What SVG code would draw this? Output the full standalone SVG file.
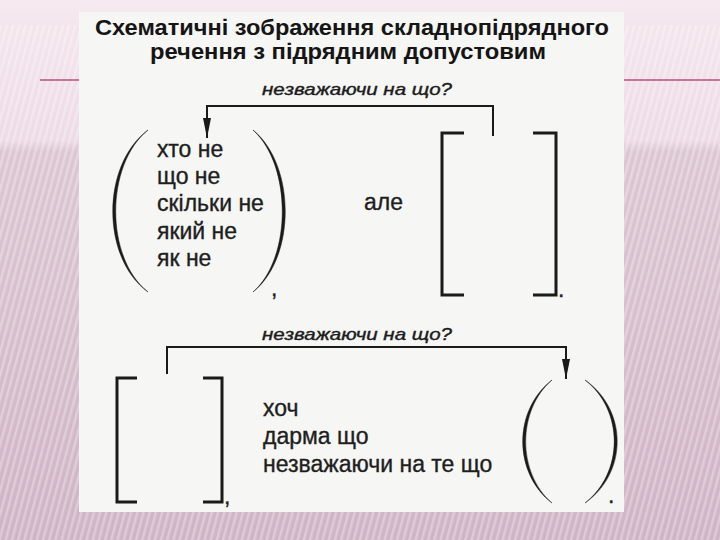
<svg xmlns="http://www.w3.org/2000/svg" width="720" height="540" viewBox="0 0 720 540">
  <defs>
    <linearGradient id="bg" x1="0" y1="0" x2="0" y2="1">
      <stop offset="0" stop-color="#f6eaf0"/>
      <stop offset="0.05" stop-color="#f4e5ed"/>
      <stop offset="0.26" stop-color="#eddbe5"/>
      <stop offset="0.28" stop-color="#dcc6d3"/>
      <stop offset="1" stop-color="#cfb4c5"/>
    </linearGradient>
    <pattern id="stripes" patternUnits="userSpaceOnUse" width="6" height="6" patternTransform="rotate(15)">
      <rect x="0" y="0" width="2.5" height="6" fill="#ffffff" fill-opacity="0.3"/>
    </pattern>
    <marker id="arrow" viewBox="0 0 20 8" refX="20" refY="4" markerWidth="20" markerHeight="8" markerUnits="userSpaceOnUse" orient="auto">
      <path d="M0,0 L20,4 L0,8 z" fill="#1a1a1a"/>
    </marker>
    <style>
      .title { font-family: "Liberation Sans", Arial, sans-serif; font-weight: bold; font-size: 22px; fill: #151515; text-anchor: middle; }
      .q { font-family: "Liberation Sans", Arial, sans-serif; font-style: italic; font-size: 17px; fill: #1c1c1c; stroke: #1c1c1c; stroke-width: 0.4; text-anchor: middle; }
      .t { font-family: "Liberation Sans", Arial, sans-serif; font-size: 23px; fill: #1e1e1e; stroke: #1e1e1e; stroke-width: 0.35; }
      .conn { fill: none; stroke: #1a1a1a; stroke-width: 2; }
      .br { fill: none; stroke: #1a1a1a; stroke-width: 3; }
      .par { fill: #1a1a1a; stroke: #1a1a1a; stroke-width: 0.5; }
    </style>
  </defs>

  <!-- slide background -->
  <rect x="0" y="0" width="720" height="540" fill="url(#bg)"/>
  <rect x="0" y="25" width="720" height="515" fill="url(#stripes)"/>
  <line x1="40" y1="80" x2="720" y2="80" stroke="#b84f7c" stroke-width="1.6"/>

  <!-- scanned figure background -->
  <rect x="79" y="12" width="545" height="500" fill="#f6f6f4"/>

  <!-- title -->
  <g id="title">
    <text class="title" x="352" y="35" textLength="514" lengthAdjust="spacingAndGlyphs">Схематичні зображення складнопідрядного</text>
    <text class="title" x="348" y="59" textLength="396" lengthAdjust="spacingAndGlyphs">речення з підрядним допустовим</text>
  </g>

  <!-- connectors -->
  <g id="connectors">
    <path class="conn" d="M493,136 V106 H207 V138" marker-end="url(#arrow)"/>
    <text class="q" x="357" y="95" textLength="190" lengthAdjust="spacingAndGlyphs">незважаючи на що?</text>
    <path class="conn" d="M167,374 V347 H566 V379" marker-end="url(#arrow)"/>
    <text class="q" x="357" y="340" textLength="190" lengthAdjust="spacingAndGlyphs">незважаючи на що?</text>
  </g>

  <!-- top: subordinate clause in parentheses -->
  <g id="sub-top">
    <path class="par" d="M148,130 C101,165 101,258 148,292 C105,258 105,165 148,130 z"/>
    <path class="par" d="M253,130 C296,165 296,258 253,292 C292,258 292,165 253,130 z"/>
    <text class="t" x="157" y="157">хто не</text>
    <text class="t" x="157" y="184">що не</text>
    <text class="t" x="157" y="211">скільки не</text>
    <text class="t" x="157" y="239">який не</text>
    <text class="t" x="157" y="266">як не</text>
    <text class="t" x="271" y="296">,</text>
  </g>

  <g id="ale">
    <text class="t" x="364" y="210">але</text>
  </g>

  <!-- top: main clause in brackets -->
  <g id="main-top">
    <path class="br" d="M464,133 H442 V295 H464"/>
    <path class="br" d="M533,133 H556 V295 H533"/>
    <text class="t" x="558" y="297">.</text>
  </g>

  <!-- bottom: main clause in brackets -->
  <g id="main-bottom">
    <path class="br" d="M137,378 H117 V502 H137"/>
    <path class="br" d="M203,378 H222 V502 H203"/>
    <text class="t" x="224" y="504">,</text>
  </g>

  <g id="conj-bottom">
    <text class="t" x="263" y="416">хоч</text>
    <text class="t" x="263" y="444">дарма що</text>
    <text class="t" x="263" y="472">незважаючи на те що</text>
  </g>

  <!-- bottom: subordinate clause in parentheses -->
  <g id="sub-bottom">
    <path class="par" d="M552,380 C513,410 513,473 552,503 C517,473 517,410 552,380 z"/>
    <path class="par" d="M585,380 C628,410 628,473 585,503 C624,473 624,410 585,380 z"/>
    <text class="t" x="608" y="503">.</text>
  </g>
</svg>
